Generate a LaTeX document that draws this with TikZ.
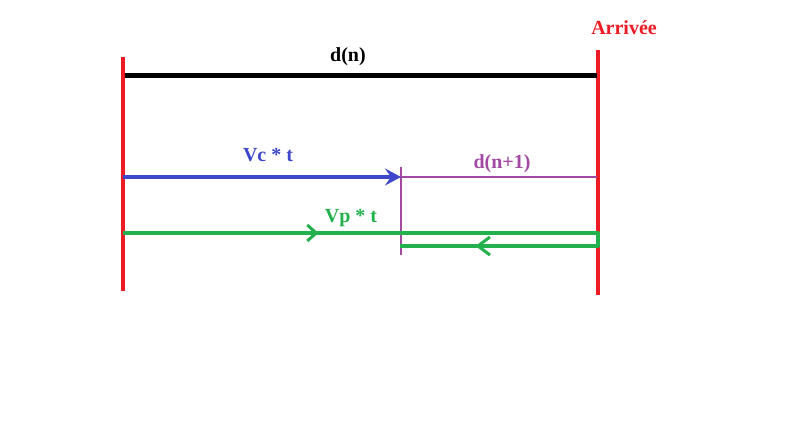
\documentclass[tikz,border=0pt]{standalone}
\usepackage{fontspec}
\setmainfont{Liberation Serif}
\usetikzlibrary{arrows.meta,decorations.markings}
\definecolor{pred}{HTML}{ED1C24}
\definecolor{pblue}{HTML}{3F48CC}
\definecolor{ppurple}{HTML}{A349A4}
\definecolor{pgreen}{HTML}{22B14C}
\tikzset{
  lbl/.style={font=\fontsize{20}{22}\selectfont\bfseries, anchor=base, inner sep=0pt},
  redline/.style={draw=pred, line width=4pt},
  greenline/.style={draw=pgreen, line width=4pt},
  barb/.style={pgreen, line width=3pt},
}
\begin{document}
\begin{tikzpicture}[x=1pt,y=-1pt]
\useasboundingbox (0,0) rectangle (807,435);
% coordinates
\coordinate (L1) at (123,57);
\coordinate (L2) at (123,291);
\coordinate (R1) at (598,50);
\coordinate (R2) at (598,295);
\coordinate (A) at (125,76);
\coordinate (B) at (597,76);
\coordinate (C1) at (123,177);
\coordinate (C2) at (401,177);
\coordinate (C3) at (597,177);
\coordinate (P1) at (401,167);
\coordinate (P2) at (401,255);
\coordinate (G1) at (123,233);
\coordinate (G2) at (598,233);
\coordinate (G3) at (598,246);
\coordinate (G4) at (400,246);
% red lines
\draw[redline] (L1) -- (L2);
\draw[redline] (R1) -- (R2);
% black
\draw[line width=5pt] (A) -- (B);
% purple
\draw[ppurple, line width=2pt] (P1) -- (P2);
\draw[ppurple, line width=2pt] (C2) -- (C3);
% blue arrow
\draw[pblue, line width=4.5pt, -{Stealth[length=16pt,width=17pt,inset=6pt]}] (C1) -- (C2);
% green path
\draw[greenline, line join=round, postaction={decorate}, decoration={markings,
     mark=at position 0.285 with {\arrow[barb]{Straight Barb[length=9pt,width=16pt]}},
     mark=at position 0.89 with {\arrow[barb]{Straight Barb[length=12pt,width=18pt]}}}]
  (G1) -- (G2) -- (G3) -- (G4);
% labels
\node[lbl] (dn) at (348,62) {d(n)};
\node[lbl, text=pred] (arr) at (624,35) {Arrivée};
\node[lbl, text=pblue] (vc) at (268,162) {Vc * t};
\node[lbl, text=ppurple] (dn1) at (502,169) {d(n+1)};
\node[lbl, text=pgreen] (vp) at (351,223) {Vp * t};
\end{tikzpicture}
\end{document}
